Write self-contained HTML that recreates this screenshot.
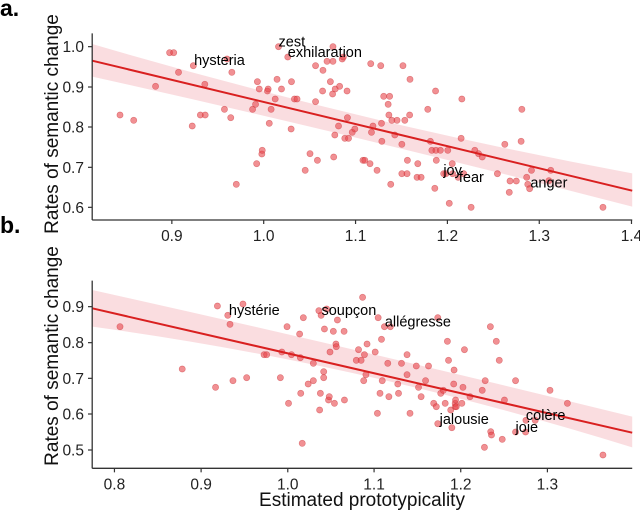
<!DOCTYPE html>
<html><head><meta charset="utf-8"><style>
html,body{margin:0;padding:0;background:#fff;}
svg{display:block;font-family:"Liberation Sans",Arial,sans-serif;}
</style></head><body>
<svg id="s" width="640" height="510" xmlns="http://www.w3.org/2000/svg">
<text x="0" y="16" font-size="23" font-weight="bold">a.</text>
<text x="0" y="233" font-size="23" font-weight="bold">b.</text>
<text transform="translate(58,124) rotate(-90)" text-anchor="middle" font-size="19" fill="#111">Rates of semantic change</text>
<text transform="translate(58,356) rotate(-90)" text-anchor="middle" font-size="19" fill="#111">Rates of semantic change</text>
<text x="362" y="506" text-anchor="middle" font-size="19" fill="#111">Estimated prototypicality</text>
</svg>
<script>
var S=document.getElementById('s'),NS='http://www.w3.org/2000/svg';
function el(t,a,txt){var e=document.createElementNS(NS,t);for(var k in a)e.setAttribute(k,a[k]);if(txt)e.textContent=txt;S.appendChild(e);return e;}
function panel(oy,pts,line,band,labels,xt,yt,ax){
 var X=function(z){return 60+z/2.7},Y=function(z){return oy+z/3};
 el('path',{d:'M'+X(87)+','+Y(band[0])+' Q'+X(816)+','+Y(band[4])+' '+X(1545)+','+Y(band[2])+' L'+X(1545)+','+Y(band[3])+' Q'+X(816)+','+Y(band[5])+' '+X(87)+','+Y(band[1])+'Z',fill:'rgba(235,120,130,0.25)'});
 pts.forEach(function(p){el('circle',{cx:X(p[0]),cy:Y(p[1]),r:3.1,fill:'rgba(232,70,75,0.6)',stroke:'rgba(200,40,45,0.5)','stroke-width':0.6});});
 el('line',{x1:X(87),y1:Y(line[0]),x2:X(1545),y2:Y(line[1]),stroke:'#d92020','stroke-width':2});
 labels.forEach(function(l){el('text',{x:X(l[1]),y:Y(l[2]),'font-size':14.5,fill:'#000'},l[0]);});
 el('line',{x1:92.2,y1:Y(ax[0]),x2:92.2,y2:Y(ax[1]),stroke:'#333','stroke-width':1.3});
 el('line',{x1:92.2,y1:Y(ax[1]),x2:X(1545),y2:Y(ax[1]),stroke:'#333','stroke-width':1.3});
 xt.forEach(function(t){var x=X(t[1]);el('line',{x1:x,y1:Y(ax[1]),x2:x,y2:Y(ax[1])+4,stroke:'#333','stroke-width':1.2});el('text',{x:x,y:Y(ax[1])+21,'text-anchor':'middle','font-size':15.5,fill:'#222'},t[0]);});
 yt.forEach(function(t){var y=Y(t[1]);el('line',{x1:88,y1:y,x2:92.2,y2:y,stroke:'#333','stroke-width':1.2});el('text',{x:84,y:y+5.5,'text-anchor':'end','font-size':15.5,fill:'#222'},t[0]);});
}
var A=[[162,345],[199,361],[258,259],[296,158],[307,158],[320,217],[357,378],[360,197],[379,345],[391,253],[392,345],[444,328],[451,177],[461,353],[464,217],[476,553],[520,328],[528,313],[531,491],[533,245],[538,267],[560,273],[562,267],[545,462],[546,451],[565,370],[570,328],[581,297],[586,238],[590,140],[598,267],[615,171],[624,387],[625,245],[633,297],[640,297],[662,511],[675,461],[690,197],[690,305],[695,481],[709,273],[710,211],[721,184],[730,245],[737,140],[737,184],[736,282],[739,471],[742,405],[743,267],[752,378],[755,259],[762,177],[765,171],[769,415],[775,273],[776,353],[779,415],[789,397],[796,387],[818,481],[823,481],[837,491],[839,191],[841,397],[845,378],[856,511],[866,197],[868,370],[869,424],[874,289],[886,313],[888,345],[890,289],[893,553],[896,361],[904,405],[910,361],[923,433],[923,521],[926,197],[931,361],[937,521],[938,481],[945,238],[944,345],[966,491],[964,532],[975,532],[993,328],[1000,424],[1004,451],[1012,565],[1014,273],[1015,451],[1016,481],[1027,451],[1036,521],[1047,451],[1051,610],[1059,491],[1075,532],[1083,415],[1085,297],[1090,521],[1110,622],[1120,451],[1130,461],[1140,471],[1181,521],[1201,433],[1213,577],[1245,424],[1247,328],[1260,532],[1263,553],[1268,566],[1273,511],[1320,542],[1325,511],[1466,622],[1042,521],[1060,521],[1215,543],[1232,543]];
panel(0,A,[182,572],[132,230,520,620,370,410],[['zest',590,140],['exhilaration',615,171],['hysteria',362,195],['joy',1035,525],['fear',1077,546],['anger',1270,563]],
 [['0.9',302],['1.0',550],['1.1',798],['1.2',1046],['1.3',1294],['1.4',1543]],
 [['1.0',140],['0.9',261],['0.8',381],['0.7',502],['0.6',622]],[100,660]);
var B=[[162,200],[330,327],[420,382],[425,138],[453,166],[459,193],[467,362],[494,132],[504,353],[551,284],[558,284],[599,276],[595,353],[613,200],[617,430],[625,284],[647,222],[650,400],[654,550],[657,173],[649,293],[670,372],[684,310],[684,362],[699,152],[701,450],[703,400],[705,166],[712,335],[712,353],[714,207],[720,147],[725,420],[727,410],[729,276],[738,214],[741,430],[745,252],[746,260],[749,180],[767,214],[768,420],[800,301],[806,269],[813,301],[817,112],[820,362],[822,284],[826,344],[829,252],[851,276],[857,460],[859,173],[864,400],[868,238],[870,362],[876,200],[885,310],[888,410],[892,200],[912,372],[914,400],[922,310],[937,284],[937,344],[945,460],[962,318],[968,382],[975,410],[987,362],[995,318],[1009,430],[1016,440],[1020,491],[1028,400],[1035,391],[1040,430],[1046,244],[1049,301],[1055,450],[1058,503],[1063,372],[1067,440],[1067,430],[1068,420],[1070,440],[1085,430],[1088,382],[1092,269],[1107,410],[1140,391],[1146,562],[1148,362],[1163,515],[1165,525],[1194,538],[1200,420],[1230,516],[1230,362],[1257,516],[1258,481],[1283,481],[1323,391],[1370,430],[1466,585],[1178,244],[1186,301],[1064,330],[1162,200],[1020,173]];
panel(260,B,[145,518],[90,200,470,562,270,310],[['hystérie',456,165],['soupçon',706,165],['allégresse',877,200],['jalousie',1025,492],['colère',1258,480],['joie',1230,516]],
 [['0.8',147],['0.9',381],['1.0',615],['1.1',848],['1.2',1082],['1.3',1316]],
 [['0.9',140],['0.8',248],['0.7',355],['0.6',462],['0.5',570]],[62,625]);
</script>
</body></html>
